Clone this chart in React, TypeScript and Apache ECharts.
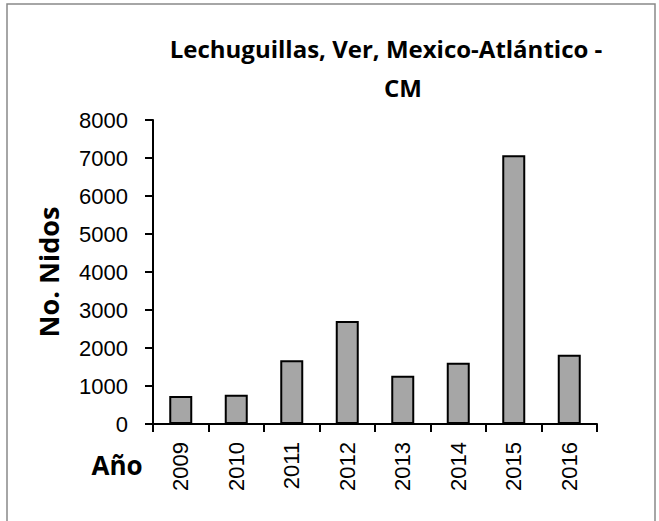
import React, { useEffect, useRef } from "react";
import * as echarts from "echarts";

const years = ["2009", "2010", "2011", "2012", "2013", "2014", "2015", "2016"];
const nests = [740, 770, 1680, 2710, 1270, 1610, 7070, 1820];
const titleLines = ["Lechuguillas, Ver, Mexico-Atlántico -", "CM"];
const yName = "No. Nidos";
const xName = "Año";

export default function App() {
  const ref = useRef<HTMLDivElement>(null);
  useEffect(() => {
    document.body.style.margin = "0";
    const chart = echarts.init(ref.current!, null, { renderer: "svg" });
    chart.setOption({
      animation: false,
      backgroundColor: "#ffffff",
      grid: { left: 153, top: 120, right: 62, bottom: 97, containLabel: false },
      xAxis: {
        type: "category",
        data: years,
        boundaryGap: true,
        axisLine: { show: true, lineStyle: { color: "#000", width: 2 } },
        axisTick: { show: true, length: 8, lineStyle: { color: "#000", width: 2 } },
        axisLabel: {
          rotate: 90,
          fontSize: 22,
          fontFamily: "Liberation Sans",
          color: "#000",
          margin: 18,
        },
      },
      yAxis: {
        type: "value",
        min: 0,
        max: 8000,
        interval: 1000,
        splitLine: { show: false },
        axisLine: { show: true, lineStyle: { color: "#000", width: 2 } },
        axisTick: { show: true, length: 8, lineStyle: { color: "#000", width: 2 } },
        axisLabel: {
          fontSize: 22,
          fontFamily: "Liberation Sans",
          color: "#000",
          margin: 25,
          formatter: (v: number) => String(v),
        },
      },
      series: [
        {
          type: "bar",
          data: nests,
          barWidth: 23,
          itemStyle: { color: "#a6a6a6", borderColor: "#000", borderWidth: 2 },
        },
      ],
      graphic: [
        {
          type: "rect",
          shape: { x: 7, y: 4, width: 648, height: 600 },
          style: { fill: "none", stroke: "#898989", lineWidth: 1.5 },
          silent: true,
        },
        {
          type: "text",
          x: 386,
          y: 48,
          style: {
            text: titleLines[0],
            fontSize: 24,
            fontWeight: "bold",
            fontFamily: "Open Sans",
            fill: "#000",
            textAlign: "center",
            textVerticalAlign: "middle",
          },
        },
        {
          type: "text",
          x: 403,
          y: 87,
          style: {
            text: titleLines[1],
            fontSize: 24,
            fontWeight: "bold",
            fontFamily: "Open Sans",
            fill: "#000",
            textAlign: "center",
            textVerticalAlign: "middle",
          },
        },
        {
          type: "text",
          x: 48,
          y: 272,
          rotation: Math.PI / 2,
          style: {
            text: yName,
            fontSize: 27,
            fontWeight: "bold",
            fontFamily: "Open Sans",
            fill: "#000",
            textAlign: "center",
            textVerticalAlign: "middle",
          },
        },
        {
          type: "text",
          x: 117,
          y: 465,
          style: {
            text: xName,
            fontSize: 26,
            fontWeight: "bold",
            fontFamily: "Open Sans",
            fill: "#000",
            textAlign: "center",
            textVerticalAlign: "middle",
          },
        },
      ],
    });
    return () => chart.dispose();
  }, []);
  return <div ref={ref} style={{ width: 659, height: 521 }} />;
}
